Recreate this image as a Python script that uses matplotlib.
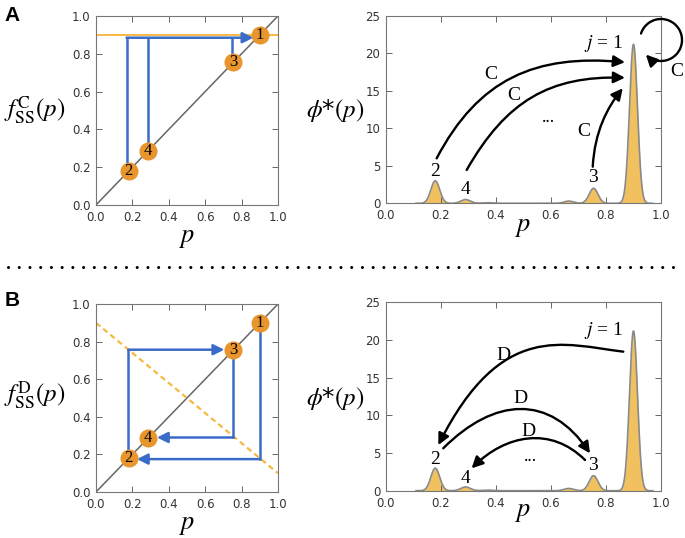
import matplotlib
matplotlib.use("Agg")
import matplotlib.pyplot as plt
import numpy as np
from matplotlib.lines import Line2D
from matplotlib.patches import FancyArrowPatch
from matplotlib.path import Path

# fixed points of the map (p values) and their labels
STATE_LABELS = ["1", "2", "3", "4"]
STATE_P = [0.90, 0.18, 0.755, 0.287]

# strategy maps f_SS(p)
FC_X = [0.0, 1.0]
FC_Y = [0.9, 0.9]
FD_X = [0.0, 1.0]
FD_Y = [0.9, 0.1]

# cobweb paths: list of (x, y) vertices, last segment carries the arrow
COBWEB_C = [
    ([0.168, 0.168, 0.865], [0.18, 0.885, 0.885]),
    ([0.284, 0.284], [0.29, 0.885]),
    ([0.749, 0.749], [0.755, 0.885]),
]
COBWEB_C_ARROW = [True, False, False]
COBWEB_D = [
    ([0.90, 0.90, 0.225], [0.90, 0.175, 0.175]),
    ([0.178, 0.178, 0.705], [0.18, 0.757, 0.757]),
    ([0.755, 0.755, 0.335], [0.757, 0.29, 0.29]),
]
COBWEB_D_ARROW = [True, True, True]

# stationary distribution phi*(p): bumps
PEAK_CENTERS = [0.18, 0.29, 0.37, 0.665, 0.755, 0.90]
PEAK_HEIGHTS = [3.0, 0.5, 0.08, 0.3, 2.0, 21.2]
PEAK_WIDTHS = [0.016, 0.017, 0.02, 0.017, 0.016, 0.0145]

# peak labels above the distribution
PEAK_LABEL_TEXT = ["2", "4", "3"]
PEAK_LABEL_X = [0.18, 0.29, 0.752]
PEAK_LABEL_Y_A = [4.2, 1.8, 3.5]
PEAK_LABEL_Y_B = [4.1, 1.6, 3.4]

# transitions: bezier (start, ctrl1, ctrl2, end) in data units, then label position
TRANS_C = [
    ([(0.185, 5.99), (0.337, 16.6), (0.544, 19.9), (0.869, 18.8)], (0.38, 17.1)),
    ([(0.294, 4.44), (0.438, 13.7), (0.597, 17.0), (0.869, 16.74)], (0.466, 14.4)),
    ([(0.752, 4.88), (0.759, 9.54), (0.804, 12.73), (0.861, 15.33)], (0.718, 9.6)),
]
TRANS_D = [
    ([(0.863, 18.45), (0.647, 19.4), (0.420, 22.65), (0.191, 6.06)], (0.427, 17.9)),
    ([(0.209, 5.63), (0.394, 12.38), (0.596, 12.91), (0.742, 4.96)], (0.488, 12.3)),
    ([(0.724, 4.07), (0.600, 8.59), (0.436, 7.48), (0.312, 2.97)], (0.518, 7.8)),
]
DOTS_A = (0.59, 11.5)
DOTS_B = (0.526, 4.6)

BLUE = "#3a6bc8"
ORANGE_DOT = "#e8952d"
ORANGE_LINE = "#f5b942"
FILL = "#f0c15e"
SERIF = "Liberation Serif"

plt.rcParams.update({"mathtext.fontset": "stix", "font.family": "DejaVu Sans"})


def style_axes(ax, ymax, yticks, fmt):
    ax.set_xlim(0, 1)
    ax.set_ylim(0, ymax)
    ax.set_xticks(np.linspace(0, 1, 6))
    ax.set_xticklabels([f"{t:.1f}" for t in np.linspace(0, 1, 6)])
    ax.set_yticks(yticks)
    ax.set_yticklabels([fmt.format(t) for t in yticks])
    ax.tick_params(direction="in", top=True, right=True, length=4, width=0.7,
                   color="#666666", labelcolor="#333333", labelsize=8.5, pad=4)
    ax.tick_params(axis="x", pad=4.2)
    for s in ax.spines.values():
        s.set_color("#777777")
        s.set_linewidth(0.8)


def set_xlabel(ax, ypos):
    ax.set_xlabel("$p$", fontsize=19, va="center")
    ax.xaxis.set_label_coords(0.5, ypos)


def draw_map(ax, fx, fy, dashed, cobweb, arrows, ylabel):
    style_axes(ax, 1.0, np.linspace(0, 1, 6), "{:.1f}")
    ax.plot([0, 1], [0, 1], color="#666666", lw=1.1, zorder=1)
    if dashed:
        ax.plot(fx, fy, color=ORANGE_LINE, lw=1.6, dashes=(2.5, 1.7), zorder=2)
    else:
        ax.plot(fx, fy, color=ORANGE_LINE, lw=1.4, zorder=2)

    for (xs, ys), has_arrow in zip(cobweb, arrows):
        if has_arrow:
            ax.plot(xs[:-1], ys[:-1], color=BLUE, lw=1.8, zorder=3, solid_capstyle="projecting")
            ax.annotate("", xy=(xs[-1], ys[-1]), xytext=(xs[-2], ys[-2]),
                        arrowprops=dict(arrowstyle="-|>", color=BLUE, lw=1.8,
                                        shrinkA=0, shrinkB=0, mutation_scale=16),
                        zorder=3)
        else:
            ax.plot(xs, ys, color=BLUE, lw=1.8, zorder=3)

    ax.plot(STATE_P, STATE_P, "o", color=ORANGE_DOT, ms=12, zorder=4)
    for lab, p in zip(STATE_LABELS, STATE_P):
        ax.text(p, p, lab, ha="center", va="center", fontsize=12, family=SERIF, zorder=5)

    ax.set_ylabel(ylabel, fontsize=18, rotation=0, ha="center", va="center")
    ax.yaxis.set_label_coords(-0.335, 0.5)


def draw_dist(ax, trans, letter, label_y, dots):
    style_axes(ax, 25, [0, 5, 10, 15, 20, 25], "{:d}")
    p = np.linspace(0.11, 0.97, 800)
    phi = np.zeros_like(p)
    for c, h, w in zip(PEAK_CENTERS, PEAK_HEIGHTS, PEAK_WIDTHS):
        phi += h * np.exp(-0.5 * ((p - c) / w) ** 2)
    ax.fill_between(p, 0, phi, color=FILL, lw=0, zorder=1)
    ax.plot(p, phi, color="#8a8a8a", lw=1.2, zorder=2)

    for t, x, y in zip(PEAK_LABEL_TEXT, PEAK_LABEL_X, label_y):
        ax.text(x, y, t, ha="center", va="center", fontsize=14, family=SERIF)
    ax.text(0.79, 21.3, "$j$ = 1", ha="center", va="center", fontsize=14, family=SERIF)

    for pts, lpos in trans:
        path = Path(pts, [Path.MOVETO, Path.CURVE4, Path.CURVE4, Path.CURVE4])
        ax.add_patch(FancyArrowPatch(path=path, arrowstyle="-|>", color="k", lw=1.7,
                                     mutation_scale=17, transform=ax.transData, zorder=3))
        ax.text(lpos[0], lpos[1], letter, ha="center", va="center", fontsize=14, family=SERIF)
    ax.text(dots[0], dots[1], "...", ha="center", va="center", fontsize=13, family=SERIF)

    ax.set_ylabel(r"$\phi$*$(p)$", fontsize=18, rotation=0, ha="center", va="center")
    ax.yaxis.set_label_coords(-0.184, 0.497)


def main() -> None:
    fig = plt.figure(figsize=(6.85, 5.38), dpi=100)

    ax_a1 = fig.add_axes([0.1401, 0.6190, 0.2657, 0.3513])
    ax_a2 = fig.add_axes([0.5631, 0.6221, 0.4019, 0.3487])
    ax_b1 = fig.add_axes([0.1401, 0.0855, 0.2657, 0.3494])
    ax_b2 = fig.add_axes([0.5631, 0.0879, 0.4019, 0.3502])

    draw_map(ax_a1, FC_X, FC_Y, False, COBWEB_C, COBWEB_C_ARROW,
             r"$f_{\mathrm{SS}}^{\mathrm{C}}(p)$")
    set_xlabel(ax_a1, -0.169)
    draw_map(ax_b1, FD_X, FD_Y, True, COBWEB_D, COBWEB_D_ARROW,
             r"$f_{\mathrm{SS}}^{\mathrm{D}}(p)$")
    ax_b1.yaxis.set_label_coords(-0.335, 0.516)
    set_xlabel(ax_b1, -0.170)

    draw_dist(ax_a2, TRANS_C, "C", PEAK_LABEL_Y_A, DOTS_A)
    set_xlabel(ax_a2, -0.121)
    draw_dist(ax_b2, TRANS_D, "D", PEAK_LABEL_Y_B, DOTS_B)
    set_xlabel(ax_b2, -0.108)
    ax_b2.yaxis.set_label_coords(-0.184, 0.49)

    # self loop on j = 1 (drawn in figure inches)
    loop = Path.arc(224, 522)
    verts = loop.vertices[::-1] * 0.21 + np.array([6.61, 4.98])
    fig.add_artist(FancyArrowPatch(path=Path(verts, loop.codes), arrowstyle="-|>",
                                   color="k", lw=1.7, mutation_scale=17,
                                   transform=fig.dpi_scale_trans))
    ax_a2.text(1.057, 17.5, "C", ha="center", va="center", fontsize=14,
               family=SERIF, clip_on=False)

    # panel letters and separator
    fig.text(0.018, 0.972, "A", fontsize=15, fontweight="bold", family="Liberation Sans",
             ha="center", va="center")
    fig.text(0.018, 0.442, "B", fontsize=15, fontweight="bold", family="Liberation Sans",
             ha="center", va="center")
    fig.add_artist(Line2D([0.011, 0.993], [1 - 267 / 538] * 2, transform=fig.transFigure,
                          color="k", lw=2.2, ls=(0, (0.01, 3.5)), dash_capstyle="round"))

    fig.savefig("out.png", dpi=100)
    plt.close(fig)


if __name__ == "__main__":
    main()
